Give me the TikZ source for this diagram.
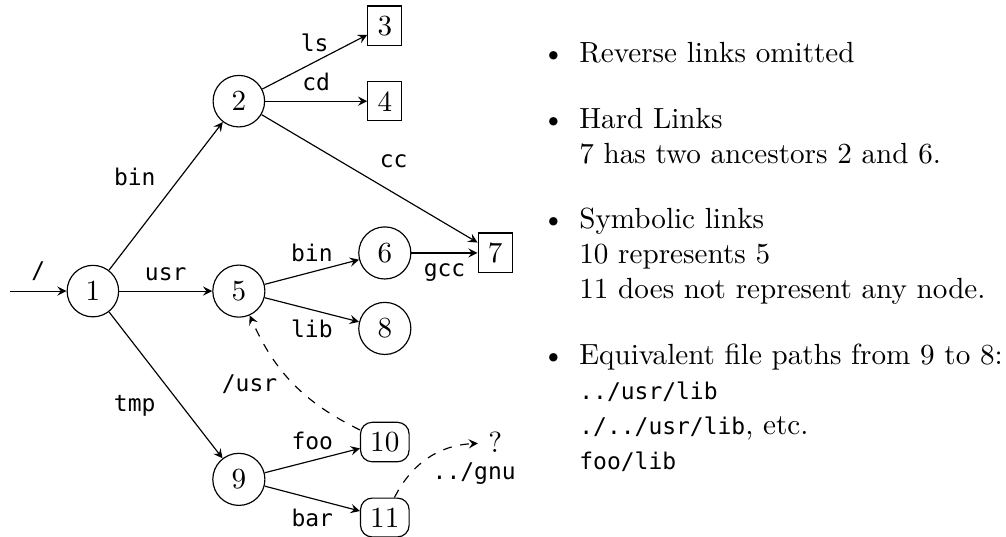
\documentclass[tikz,border=0pt]{standalone}
\usepackage{fontspec}
\setmonofont[Scale=MatchLowercase]{DejaVu Sans Mono}

\tikzset{
	dirnode/.style={circle,draw},
	filenode/.style={rectangle,draw},
	linknode/.style={rectangle,rounded corners,draw},
	lbl/.style={font=\ttfamily},
}

\begin{document}
\begin{tikzpicture}[>=stealth]
\useasboundingbox (-1.12,-2.955) rectangle (11.01,3.51);

%directories
\node[dirnode] (n1) at (0,0) {1};
\node[dirnode] (n2) at (1.76,2.29) {2};
\node[dirnode] (n5) at (1.76,0) {5};
\node[dirnode] (n6) at (3.52,0.46) {6};
\node[dirnode] (n8) at (3.52,-0.45) {8};
\node[dirnode] (n9) at (1.76,-2.27) {9};

%files
\node[filenode] (n3) at (3.52,3.2) {3};
\node[filenode] (n4) at (3.52,2.29) {4};
\node[filenode] (n7) at (4.85,0.46) {7};

%symbolic links
\node[linknode] (n10) at (3.52,-1.82) {10};
\node[linknode] (n11) at (3.52,-2.73) {11};
\node (q) at (4.85,-1.82) {?};

\coordinate (in) at (-1,0);

%edges
\draw[->] (in) -- node[lbl,above] {/} (n1);
\draw[->] (n1) -- node[lbl,above left] {bin} (n2);
\draw[->] (n1) -- node[lbl,above] {usr} (n5);
\draw[->] (n1) -- node[lbl,below left] {tmp} (n9);
\draw[->] (n2) -- node[lbl,above] {ls} (n3);
\draw[->] (n2) -- node[lbl,above] {cd} (n4);
\draw[->] (n2) -- node[lbl,above right] {cc} (n7);
\draw[->] (n5) -- node[lbl,above] {bin} (n6);
\draw[->] (n5) -- node[lbl,below] {lib} (n8);
\draw[->] (n6) -- node[lbl,below] {gcc} (n7);
\draw[->] (n9) -- node[lbl,above] {foo} (n10);
\draw[->] (n9) -- node[lbl,below] {bar} (n11);

%links
\draw[->,dashed] (n10) to[bend left=20] node[lbl,left,xshift=-2pt] {/usr} (n5);
\draw[->,dashed] (n11) to[bend left=30] node[lbl,below right,xshift=-2pt,yshift=2pt] {../gnu} (q);

%notes
\node[anchor=north west,inner sep=0,text width=6.2cm,align=left] (notes) at (4.98,3.47) {
\begin{itemize}
\setlength{\itemsep}{6.6pt}
\item Reverse links omitted
\item Hard Links\\
7 has two ancestors 2 and 6.
\item Symbolic links\\
10 represents 5\\
11 does not represent any node.
\item Equivalent file paths from 9 to 8:\\
\texttt{../usr/lib}\\
\texttt{./../usr/lib}, etc.\\
\texttt{foo/lib}
\end{itemize}
};

\end{tikzpicture}
\end{document}
